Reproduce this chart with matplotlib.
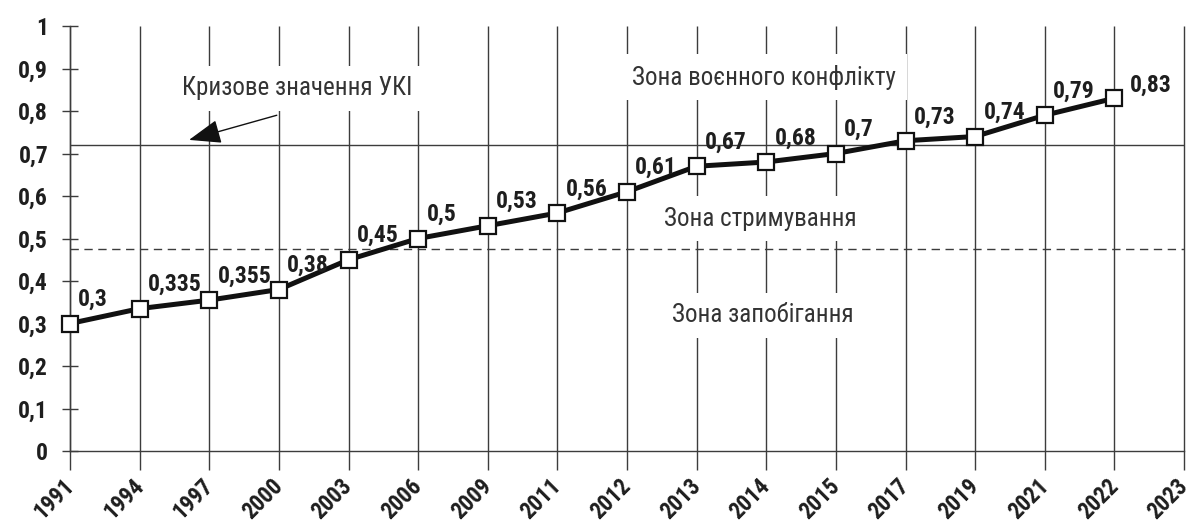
import matplotlib
matplotlib.use("Agg")
import matplotlib.pyplot as plt
from matplotlib import font_manager as fm
from matplotlib.ft2font import FT2Font
from matplotlib.transforms import ScaledTranslation

years = ["1991", "1994", "1997", "2000", "2003", "2006", "2009", "2011", "2012",
         "2013", "2014", "2015", "2017", "2019", "2021", "2022", "2023"]
values = [0.3, 0.335, 0.355, 0.38, 0.45, 0.5, 0.53, 0.56, 0.61,
          0.67, 0.68, 0.7, 0.73, 0.74, 0.79, 0.83]
value_labels = ["0,3", "0,335", "0,355", "0,38", "0,45", "0,5", "0,53", "0,56", "0,61",
                "0,67", "0,68", "0,7", "0,73", "0,74", "0,79", "0,83"]
yticks = [0, 0.1, 0.2, 0.3, 0.4, 0.5, 0.6, 0.7, 0.8, 0.9, 1.0]
ytick_labels = ["0", "0,1", "0,2", "0,3", "0,4", "0,5", "0,6", "0,7", "0,8", "0,9", "1"]
crisis_level = 0.72
prevention_level = 0.475
zone_texts = ["Зона воєнного конфлікту", "Зона стримування", "Зона запобігання"]
crisis_text = "Кризове значення УКІ"

# ---- choose a condensed family with static regular + bold and Cyrillic support
NEED = [ord(c) for c in "ЗКУІєіяю0123456789,"]


def has_glyphs(path):
    try:
        cmap = FT2Font(path).get_charmap()
        return all(c in cmap for c in NEED)
    except Exception:
        return False


def pick_family():
    cands = ["Roboto Condensed", "PT Sans Narrow", "Fira Sans Condensed",
             "Liberation Sans Narrow", "Encode Sans Condensed", "IBM Plex Sans Condensed",
             "Archivo Narrow", "Open Sans Condensed"]
    for cand in cands:
        ents = [f for f in fm.fontManager.ttflist
                if f.name == cand and "[" not in f.fname and f.style == "normal"]
        reg = [f for f in ents if f.weight in (400, "normal", "regular")]
        bold = [f for f in ents if f.weight in (700, "bold")]
        if reg and bold and has_glyphs(reg[0].fname) and has_glyphs(bold[0].fname):
            return cand
    return None


FAMNAME = pick_family()
if FAMNAME:
    FAM = [FAMNAME, "DejaVu Sans"]
    STRETCH = "normal"
else:
    FAM = ["DejaVu Sans"]
    STRETCH = "condensed"
plt.rcParams["font.family"] = FAM

DARK = "#1e1e1e"
GRID = "#3c3c3c"
TXT = "#333333"
FS_BOLD = 17
FS_XT = 16.5
FS_REG = 18

fig = plt.figure(figsize=(11.91, 5.27), dpi=100)
ax = fig.add_axes([70 / 1191, 1 - 451 / 527, 1114 / 1191, 425 / 527])

x = list(range(len(years)))
ax.set_xlim(0, len(years) - 1)
ax.set_ylim(0, 1)

ax.vlines(x, 0, 1, colors=GRID, linewidth=1.0, zorder=1, clip_on=False)
ax.axhline(crisis_level, color=GRID, linewidth=1.0, zorder=1)
ax.axhline(prevention_level, color=GRID, linewidth=1.0, zorder=1, dashes=(6, 4))

for s in ["top", "right"]:
    ax.spines[s].set_visible(False)
for s in ["left", "bottom"]:
    ax.spines[s].set_color(GRID)
    ax.spines[s].set_linewidth(1.0)

ax.set_yticks(yticks)
ax.set_yticklabels(ytick_labels)
ax.set_xticks(x)
ax.set_xticklabels(years)
ax.tick_params(axis="y", direction="inout", length=11.5, width=1.0, color=GRID,
               pad=10, labelsize=FS_BOLD, labelcolor=DARK)
ax.tick_params(axis="x", direction="out", length=13.5, width=1.0, color=GRID,
               pad=12.5, labelsize=FS_XT, labelcolor=DARK)
for lab in ax.get_yticklabels():
    lab.set_fontweight("bold")
    lab.set_fontstretch(STRETCH)
shift = ScaledTranslation(5 / 100, 0, fig.dpi_scale_trans)
for lab in ax.get_xticklabels():
    lab.set_fontweight("bold")
    lab.set_fontstretch(STRETCH)
    lab.set_rotation(45)
    lab.set_rotation_mode("anchor")
    lab.set_ha("right")
    lab.set_va("baseline")
    lab.set_transform(lab.get_transform() + shift)

ax.plot(x[:len(values)], values, color="#111111", linewidth=3.6, zorder=4,
        marker="s", markersize=11.5, markerfacecolor="white",
        markeredgecolor="#111111", markeredgewidth=1.6, clip_on=False)

for i, (v, t) in enumerate(zip(values, value_labels)):
    if i == len(values) - 1:
        off = (11, 1)
    else:
        off = (6, 9)
    ax.annotate(t, (i, v), xytext=off, textcoords="offset points",
                ha="left", va="bottom", fontsize=FS_BOLD, fontweight="bold",
                fontstretch=STRETCH, color=DARK, zorder=5)

box = dict(boxstyle="square,pad=0.42", facecolor="white", edgecolor="none")
ax.text(9.97, 0.88, zone_texts[0], ha="center", va="center", fontsize=FS_REG,
        color=TXT, fontstretch=STRETCH, bbox=box, zorder=2)
ax.text(9.91, 0.546, zone_texts[1], ha="center", va="center", fontsize=FS_REG,
        color=TXT, fontstretch=STRETCH, bbox=box, zorder=2)
ax.text(9.95, 0.32, zone_texts[2], ha="center", va="center", fontsize=FS_REG,
        color=TXT, fontstretch=STRETCH, bbox=box, zorder=2)
ax.text(3.26, 0.854, crisis_text, ha="center", va="center", fontsize=FS_REG,
        color=TXT, fontstretch=STRETCH, bbox=box, zorder=2)

ax.annotate("", xy=(1.71, 0.732), xytext=(2.97, 0.79),
            arrowprops=dict(arrowstyle="-|>,head_length=0.8,head_width=0.3",
                            mutation_scale=25, color="#111111", lw=1.0,
                            shrinkA=0, shrinkB=0), zorder=3)

fig.savefig("out.png", dpi=100, facecolor="white")
